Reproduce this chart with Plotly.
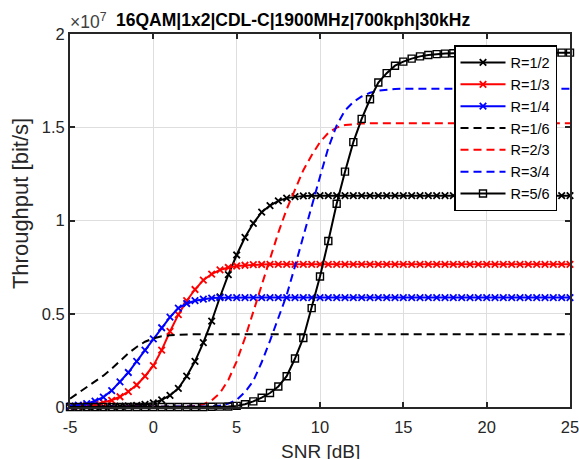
import plotly.graph_objects as go

# SNR grid [dB]
snr = [-5.0, -4.5, -4.0, -3.5, -3.0, -2.5, -2.0, -1.5, -1.0, -0.5,
       0.0, 0.5, 1.0, 1.5, 2.0, 2.5, 3.0, 3.5, 4.0, 4.5,
       5.0, 5.5, 6.0, 6.5, 7.0, 7.5, 8.0, 8.5, 9.0, 9.5,
       10.0, 10.5, 11.0, 11.5, 12.0, 12.5, 13.0, 13.5, 14.0, 14.5,
       15.0, 15.5, 16.0, 16.5, 17.0, 17.5, 18.0, 18.5, 19.0, 19.5,
       20.0, 20.5, 21.0, 21.5, 22.0, 22.5, 23.0, 23.5, 24.0, 24.5, 25.0]

# Throughput in units of 1e7 bit/s
tp_r12 = [0.000, 0.000, 0.001, 0.001, 0.002, 0.003, 0.004, 0.006, 0.009, 0.014,
          0.022, 0.038, 0.062, 0.100, 0.165, 0.245, 0.345, 0.460, 0.590, 0.710,
          0.815, 0.910, 0.985, 1.045, 1.080, 1.105, 1.120, 1.128, 1.132, 1.133,
          1.133, 1.133, 1.133, 1.133, 1.133, 1.133, 1.133, 1.133, 1.133, 1.133,
          1.133, 1.133, 1.133, 1.133, 1.133, 1.133, 1.133, 1.133, 1.133, 1.133,
          1.133, 1.133, 1.133, 1.133, 1.133, 1.133, 1.133, 1.133, 1.133, 1.133, 1.133]
tp_r13 = [0.003, 0.005, 0.008, 0.014, 0.023, 0.036, 0.055, 0.083, 0.118, 0.165,
          0.222, 0.305, 0.405, 0.495, 0.570, 0.630, 0.680, 0.713, 0.735, 0.748,
          0.756, 0.760, 0.763, 0.764, 0.765, 0.765, 0.765, 0.765, 0.765, 0.765,
          0.765, 0.765, 0.765, 0.765, 0.765, 0.765, 0.765, 0.765, 0.765, 0.765,
          0.765, 0.765, 0.765, 0.765, 0.765, 0.765, 0.765, 0.765, 0.765, 0.765,
          0.765, 0.765, 0.765, 0.765, 0.765, 0.765, 0.765, 0.765, 0.765, 0.765, 0.765]
tp_r14 = [0.005, 0.010, 0.018, 0.032, 0.053, 0.088, 0.135, 0.185, 0.245, 0.305,
          0.365, 0.425, 0.482, 0.530, 0.555, 0.570, 0.579, 0.584, 0.586, 0.587,
          0.587, 0.587, 0.587, 0.587, 0.587, 0.587, 0.587, 0.587, 0.587, 0.587,
          0.587, 0.587, 0.587, 0.587, 0.587, 0.587, 0.587, 0.587, 0.587, 0.587,
          0.587, 0.587, 0.587, 0.587, 0.587, 0.587, 0.587, 0.587, 0.587, 0.587,
          0.587, 0.587, 0.587, 0.587, 0.587, 0.587, 0.587, 0.587, 0.587, 0.587, 0.587]
tp_r16 = [0.045, 0.075, 0.105, 0.135, 0.168, 0.205, 0.245, 0.288, 0.322, 0.350,
          0.368, 0.379, 0.385, 0.388, 0.390, 0.390, 0.390, 0.390, 0.390, 0.390,
          0.390, 0.390, 0.390, 0.390, 0.390, 0.390, 0.390, 0.390, 0.390, 0.390,
          0.390, 0.390, 0.390, 0.390, 0.390, 0.390, 0.390, 0.390, 0.390, 0.390,
          0.390, 0.390, 0.390, 0.390, 0.390, 0.390, 0.390, 0.390, 0.390, 0.390,
          0.390, 0.390, 0.390, 0.390, 0.390, 0.390, 0.390, 0.390, 0.390, 0.390, 0.390]
tp_r23 = [0.000, 0.000, 0.000, 0.000, 0.000, 0.000, 0.000, 0.000, 0.000, 0.000,
          0.000, 0.000, 0.000, 0.001, 0.002, 0.005, 0.014, 0.035, 0.075, 0.145,
          0.245, 0.370, 0.510, 0.660, 0.800, 0.935, 1.060, 1.170, 1.270, 1.350,
          1.420, 1.470, 1.498, 1.512, 1.518, 1.520, 1.521, 1.521, 1.521, 1.521,
          1.521, 1.521, 1.521, 1.521, 1.521, 1.521, 1.521, 1.521, 1.521, 1.521,
          1.521, 1.521, 1.521, 1.521, 1.521, 1.521, 1.521, 1.521, 1.521, 1.521, 1.521]
tp_r34 = [0.000, 0.000, 0.000, 0.000, 0.000, 0.000, 0.000, 0.000, 0.000, 0.000,
          0.000, 0.000, 0.000, 0.000, 0.000, 0.001, 0.002, 0.003, 0.008, 0.018,
          0.038, 0.080, 0.140, 0.240, 0.355, 0.475, 0.600, 0.755, 0.920, 1.080,
          1.235, 1.390, 1.510, 1.590, 1.635, 1.665, 1.685, 1.696, 1.702, 1.705,
          1.707, 1.707, 1.707, 1.707, 1.707, 1.707, 1.707, 1.707, 1.707, 1.707,
          1.707, 1.707, 1.707, 1.707, 1.707, 1.707, 1.707, 1.707, 1.707, 1.707, 1.707]
tp_r56 = [0.000, 0.000, 0.000, 0.000, 0.000, 0.000, 0.000, 0.000, 0.000, 0.000,
          0.000, 0.000, 0.000, 0.000, 0.000, 0.000, 0.000, 0.001, 0.002, 0.003,
          0.006, 0.015, 0.030, 0.050, 0.075, 0.110, 0.165, 0.260, 0.370, 0.530,
          0.700, 0.890, 1.090, 1.262, 1.420, 1.545, 1.650, 1.740, 1.790, 1.830,
          1.852, 1.868, 1.880, 1.887, 1.892, 1.895, 1.897, 1.899, 1.900, 1.900,
          1.900, 1.900, 1.900, 1.900, 1.900, 1.900, 1.900, 1.900, 1.900, 1.900, 1.900]

series_names = ["R=1/2", "R=1/3", "R=1/4", "R=1/6", "R=2/3", "R=3/4", "R=5/6"]
series_values = [tp_r12, tp_r13, tp_r14, tp_r16, tp_r23, tp_r34, tp_r56]

y_tick_vals = [0, 0.5, 1, 1.5, 2]
y_tick_text = ["0", "0.5", "1", "1.5", "2"]
x_tick_vals = [-5, 0, 5, 10, 15, 20, 25]
x_tick_text = ["-5", "0", "5", "10", "15", "20", "25"]
SCALE = 1e7

styles = [
    dict(color="#000000", dash="solid", symbol="x-thin-open"),
    dict(color="#ff0000", dash="solid", symbol="x-thin-open"),
    dict(color="#0000ff", dash="solid", symbol="x-thin-open"),
    dict(color="#000000", dash="8px,5px", symbol=None),
    dict(color="#ff0000", dash="8px,5px", symbol=None),
    dict(color="#0000ff", dash="8px,5px", symbol=None),
    dict(color="#000000", dash="solid", symbol="square-open"),
]

FONT = "Liberation Sans, Arial, Helvetica, sans-serif"
fig = go.Figure()
for name, vals, st in zip(series_names, series_values, styles):
    yv = [v * SCALE for v in vals]
    if st["symbol"] is None:
        fig.add_trace(go.Scatter(x=snr, y=yv, name=name, mode="lines",
                                 line=dict(color=st["color"], width=2, dash=st["dash"])))
    else:
        is_x = st["symbol"].startswith("x")
        fig.add_trace(go.Scatter(x=snr, y=yv, name=name, mode="lines+markers",
                                 cliponaxis=False,
                                 line=dict(color=st["color"], width=2, dash=st["dash"]),
                                 marker=dict(symbol=st["symbol"], size=6.5 if is_x else 7,
                                             color=st["color"],
                                             line=dict(color=st["color"], width=1.8 if is_x else 1.4))))

axis_common = dict(showline=True, linecolor="#262626", linewidth=2, mirror="ticks",
                   ticks="inside", ticklen=5, tickwidth=1.5, tickcolor="#262626",
                   showgrid=True, gridcolor="#dedede", gridwidth=1, zeroline=False,
                   automargin=False, ticklabeloverflow="allow",
                   tickfont=dict(family=FONT, size=16.5, color="#262626"))

fig.update_layout(
    width=579, height=459,
    margin=dict(l=70, r=9, t=34, b=52, autoexpand=False),
    paper_bgcolor="white", plot_bgcolor="white",
    font=dict(family=FONT, color="#262626"),
    xaxis=dict(range=[-5, 25], tickmode="array", tickvals=x_tick_vals, ticktext=x_tick_text,
               ticklabelstandoff=4, **axis_common),
    yaxis=dict(range=[0, 2 * SCALE], tickmode="array",
               tickvals=[v * SCALE for v in y_tick_vals], ticktext=y_tick_text,
               **axis_common),
    legend=dict(x=0.974, y=0.9705, xanchor="right", yanchor="top",
                bgcolor="white", bordercolor="#000000", borderwidth=1.5,
                font=dict(family=FONT, size=14.5, color="#000000"),
                itemwidth=45, tracegroupgap=0),
    showlegend=True,
    annotations=[
        dict(text="×10<sup>7</sup>", xref="paper", yref="paper", x=-0.004, y=1.035,
             xanchor="left", yanchor="middle", showarrow=False,
             font=dict(family=FONT, size=17.5, color="#404040")),
        dict(text="<b>16QAM|1x2|CDL-C|1900MHz|700kph|30kHz</b>", xref="paper", yref="paper",
             x=0.088, y=1.0375, xanchor="left", yanchor="middle", showarrow=False,
             font=dict(family=FONT, size=17.5, color="#000000")),
        dict(text="SNR [dB]", xref="paper", yref="paper", x=0.5, y=-0.118,
             xanchor="center", yanchor="middle", showarrow=False,
             font=dict(family=FONT, size=19, color="#262626")),
        dict(text="Throughput [bit/s]", xref="paper", yref="paper", x=-0.1, y=0.544,
             xanchor="center", yanchor="middle", showarrow=False, textangle=-90,
             font=dict(family=FONT, size=22, color="#262626")),
    ],
)

fig.write_html("out.html", config={"displayModeBar": False},
               post_script="document.body.style.margin='0';document.body.style.overflow='hidden';")
